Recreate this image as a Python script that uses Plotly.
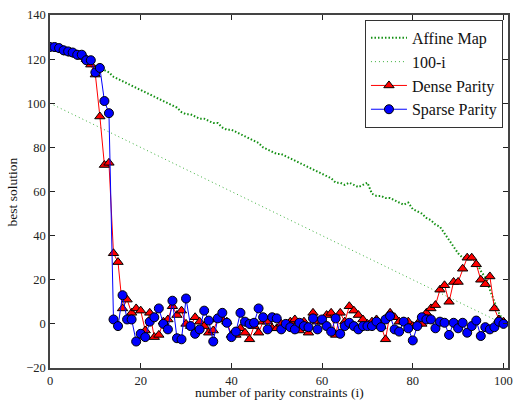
import plotly.graph_objects as go

i_vals = list(range(101))

affine_map = [125, 125, 124, 123, 123, 122, 121, 120, 119, 118,
              117, 116, 115, 114, 112, 111, 110, 109, 108, 107,
              106, 105, 104, 103, 102, 101, 100, 99, 98, 96,
              95, 95, 94, 93, 93, 92, 91, 91, 89, 88,
              88, 87, 86, 85, 84, 83, 82, 80, 79, 78,
              77, 77, 76, 75, 74, 73, 72, 71, 70, 69,
              68, 67, 66, 64, 64, 63, 64, 63, 62, 63,
              64, 59, 58, 58, 57, 57, 56, 55, 54, 55,
              52, 51, 50, 48, 47, 45, 44, 41, 38, 35,
              32, 30, 30, 30, 28, 24, 21, 15, 10, 5, 1]

baseline = [100 - k for k in i_vals]

dense_parity = [125, 125, 124.5, 124, 123, 122.5, 122, 121, 120, 117.5,
                113, 94, 72, 73, 32, 28, 7, 11, 5, 7,
                6, -3, 5, -6, -5, 1, 2, 8, 4, 6,
                0, -1, 3, 1, -1, -4, -3, 2, 2, 1,
                -5, -5, -2, -4, -7, -1, -4, 1, 1, -2,
                -2, 0, -1, 1, 2, -3, 1, -4, 5, 1,
                1, 4, 5, -5, 5, 1, 8, 6, 4, 2,
                0, 1, 2, -1, -7, 5, 3, 1, 1, 1,
                -1, 0, 0, 5, 7, 8.5, 15.5, 17.5, 10, 19,
                19, 25, 30, 30, 27, 20, 18, 21.5, 7, 2, 1]

sparse_parity = [125.5, 125.5, 125, 124, 123.5, 123, 122, 122, 119.5, 119.5,
                 114, 116, 101, 95.5, 2, -1, 13, 2, 2, -8,
                 -4.5, -6, 1, 3, 7, 0, -2.5, 10.5, -6.5, -7,
                 11.5, -1, -4.5, -2.5, 6, 1.5, -8, 2.5, 5, 0.5,
                 -6, -3.5, 5, 1, 0, 0.5, 7, 3, -2.5, 3,
                 2.5, -2.5, 0, -1.5, -2.5, 0.5, -1, -1.5, 2.5, -2.5,
                 2, -1, -3.5, 2.5, -4.5, -1, 0.5, -1, -2.5, -1,
                 -1, -1, 1, -1.5, 2, 3.5, -2.5, -3.5, 1, -2,
                 -7.5, -1, 3, 2, 2, -2, 1, 0.5, -5, 0.5,
                 -2, 0.5, -4, -1, 1.5, -5.5, -1.5, -2.5, -1.5, 1, 0]

x_ticks = [0, 20, 40, 60, 80, 100]
y_ticks = [-20, 0, 20, 40, 60, 80, 100, 120, 140]

FONT = "Liberation Serif"

fig = go.Figure()
fig.add_trace(go.Scatter(x=i_vals, y=affine_map, mode="lines", name="Affine Map",
                         line=dict(color="#139013", width=2, dash="1.5px,2px")))
fig.add_trace(go.Scatter(x=i_vals, y=baseline, mode="lines", name="100-i",
                         line=dict(color="#3cb03c", width=1, dash="1px,3px")))
fig.add_trace(go.Scatter(x=i_vals, y=dense_parity, mode="lines+markers", name="Dense Parity",
                         line=dict(color="#ff0000", width=1),
                         marker=dict(symbol="triangle-up", size=9, color="#ff0000",
                                     line=dict(color="black", width=1))))
fig.add_trace(go.Scatter(x=i_vals, y=sparse_parity, mode="lines+markers", name="Sparse Parity",
                         line=dict(color="#0000ff", width=1),
                         marker=dict(symbol="circle", size=9, color="#0000ff",
                                     line=dict(color="black", width=1))))

axis_common = dict(showline=True, linecolor="#444", linewidth=1.5, mirror="ticks",
                   ticks="inside", ticklen=5, tickcolor="#222", tickwidth=1,
                   showgrid=False, zeroline=False, automargin=False,
                   ticklabeloverflow="allow",
                   tickfont=dict(family=FONT, size=12.5, color="#222"))

fig.update_xaxes(range=[0, 101], tickvals=x_ticks, **axis_common)
fig.update_yaxes(range=[-20, 140], tickvals=y_ticks, **axis_common)

fig.add_annotation(text="number of parity constraints (i)", xref="paper", yref="paper",
                   x=0.5, y=-0.0694, xanchor="center", yanchor="middle", showarrow=False,
                   font=dict(family=FONT, size=13.5, color="#111"))
fig.add_annotation(text="best solution", xref="paper", yref="paper",
                   x=-0.0808, y=0.5, xanchor="center", yanchor="middle", showarrow=False,
                   textangle=-90, font=dict(family=FONT, size=13.5, color="#111"))

fig.update_layout(
    width=513, height=401,
    margin=dict(l=50, r=5, t=15, b=33),
    paper_bgcolor="white", plot_bgcolor="white",
    font=dict(family=FONT, color="#111"),
    showlegend=True,
    legend=dict(x=0.989, y=0.986, xanchor="right", yanchor="top",
                bgcolor="white", bordercolor="#333", borderwidth=1,
                font=dict(family=FONT, size=16, color="#111"),
                itemwidth=36, tracegroupgap=0),
)

# remove the default page margin so the figure fills the window exactly
fig.write_html("out.html",
               config={"displayModeBar": False},
               post_script="document.body.style.margin='0';document.body.style.overflow='hidden';")
